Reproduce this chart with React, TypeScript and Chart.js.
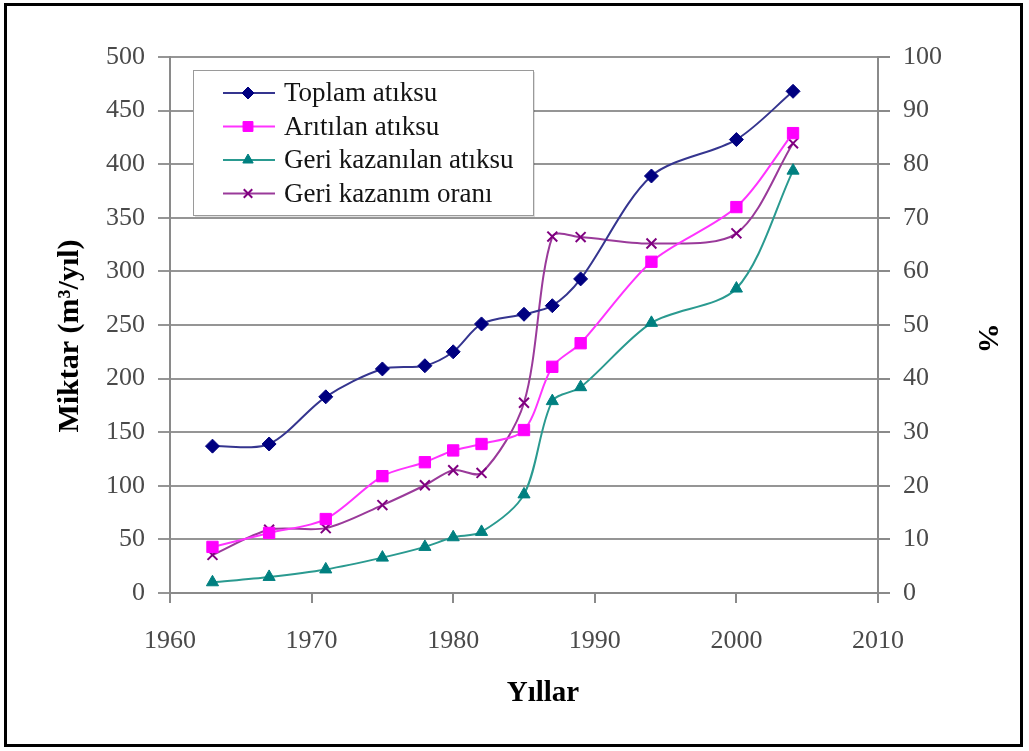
import React, { useEffect, useRef } from "react";
import { Chart, registerables } from "chart.js";
import { drawPoint } from "chart.js/helpers";

Chart.register(...registerables);

const years = [1963, 1967, 1971, 1975, 1978, 1980, 1982, 1985, 1987, 1989, 1994, 2000, 2004];
const toplam = [137, 139, 183, 209, 212, 225, 251, 260, 268, 293, 389, 423, 468];
const aritilan = [43, 56, 69, 109, 122, 133, 139, 152, 211, 233, 309, 360, 429];
const geriKazanilan = [10, 15, 22, 33, 43, 52, 57, 92, 179, 192, 252, 284, 394];
const oran = [7.1, 11.8, 12.1, 16.4, 20.1, 22.9, 22.4, 35.5, 66.5, 66.4, 65.2, 67.1, 83.9];

const seriesNames = ["Toplam atıksu", "Arıtılan atıksu", "Geri kazanılan atıksu", "Geri kazanım oranı"];
const xTitle = "Yıllar";
const yTitle = "Miktar (m³/yıl)";
const y1Title = "%";

const SERIF = '"Liberation Serif", "Times New Roman", serif';

const styles = [
  { line: "#35358f", fill: "#000080", point: "rectRot", radius: 7, lr: 6 },
  { line: "#ff33ff", fill: "#ff00ff", point: "rect", radius: 8, lr: 7 },
  { line: "#2a9a90", fill: "#008080", point: "triangle", radius: 7, lr: 6 },
  { line: "#9a3a9a", fill: "#800080", point: "crossRot", radius: 7, lr: 6 },
];

const toXY = (vals: number[]) => vals.map((v, i) => ({ x: years[i], y: v }));

const legendPlugin = {
  id: "boxLegend",
  afterDraw(chart: any) {
    const ctx = chart.ctx;
    const ca = chart.chartArea;
    ctx.save();
    const bx = ca.left + 23, by = ca.top + 13, bw = 340, bh = 145;
    ctx.fillStyle = "rgba(0,0,0,0.12)";
    ctx.fillRect(bx + 2, by + 2, bw, bh);
    ctx.fillStyle = "#ffffff";
    ctx.fillRect(bx, by, bw, bh);
    ctx.strokeStyle = "#9a9a9a";
    ctx.lineWidth = 1;
    ctx.strokeRect(bx + 0.5, by + 0.5, bw, bh);
    for (let i = 0; i < 4; i++) {
      const st = styles[i];
      const cy = by + 23 + i * 33.5;
      ctx.strokeStyle = st.line;
      ctx.lineWidth = 2;
      ctx.beginPath();
      ctx.moveTo(bx + 30, cy);
      ctx.lineTo(bx + 82, cy);
      ctx.stroke();
      ctx.fillStyle = st.fill;
      ctx.strokeStyle = st.fill;
      ctx.lineWidth = st.point === "crossRot" ? 2 : 1;
      drawPoint(ctx, { pointStyle: st.point, rotation: 0, radius: st.lr, borderWidth: ctx.lineWidth }, bx + 55, cy);
      ctx.fillStyle = "#141414";
      ctx.font = `27px ${SERIF}`;
      ctx.textBaseline = "middle";
      ctx.textAlign = "left";
      ctx.fillText(seriesNames[i], bx + 91, cy + 1);
    }
    // axis titles
    ctx.fillStyle = "#000";
    ctx.font = `bold 29px ${SERIF}`;
    ctx.textAlign = "center";
    ctx.textBaseline = "middle";
    ctx.fillText(xTitle, 543, 694);
    ctx.save();
    ctx.translate(70, 336);
    ctx.rotate(-Math.PI / 2);
    ctx.font = `bold 30px ${SERIF}`;
    ctx.fillText(yTitle, 0, 0);
    ctx.restore();
    ctx.save();
    ctx.translate(987, 338);
    ctx.rotate(Math.PI / 2);
    ctx.font = `bold 30px ${SERIF}`;
    ctx.fillText(y1Title, 0, 0);
    ctx.restore();
    ctx.restore();
  },
};

export default function App() {
  const ref = useRef<HTMLCanvasElement | null>(null);
  useEffect(() => {
    if (!ref.current) return;
    const mk = (label: string, vals: number[], i: number, axis: string) => ({
      label,
      data: toXY(vals),
      yAxisID: axis,
      borderColor: styles[i].line,
      borderWidth: 2,
      backgroundColor: styles[i].fill,
      pointBackgroundColor: styles[i].fill,
      pointBorderColor: styles[i].fill,
      pointBorderWidth: i === 3 ? 2 : 1,
      pointStyle: styles[i].point,
      pointRadius: styles[i].radius,
      tension: 0.3,
      fill: false,
    });
    const tickFont = { family: SERIF, size: 26 };
    const chart = new Chart(ref.current, {
      type: "line",
      data: {
        datasets: [
          mk(seriesNames[0], toplam, 0, "y"),
          mk(seriesNames[1], aritilan, 1, "y"),
          mk(seriesNames[2], geriKazanilan, 2, "y"),
          mk(seriesNames[3], oran, 3, "y1"),
        ],
      },
      options: {
        animation: false,
        responsive: false,
        maintainAspectRatio: false,
        layout: { padding: { left: 0, right: 0, top: 57, bottom: 0 } },
        plugins: { legend: { display: false }, tooltip: { enabled: false } },
        scales: {
          x: {
            type: "linear",
            min: 1960,
            max: 2010,
            afterFit: (s: any) => { s.height = 158; },
            ticks: { stepSize: 10, color: "#4a4a4a", font: tickFont, padding: 23, callback: (v: any) => String(v), maxRotation: 0 },
            grid: { drawOnChartArea: false, drawTicks: true, tickLength: 10, color: "#8a8a8a", lineWidth: 2 },
            border: { display: true, color: "#8a8a8a", width: 2 },
          },
          y: {
            position: "left",
            min: 0,
            max: 500,
            afterFit: (s: any) => { s.width = 170; },
            ticks: { stepSize: 50, color: "#4a4a4a", font: tickFont, padding: 13 },
            grid: { color: "#959595", lineWidth: 2, tickLength: 12 },
            border: { display: true, color: "#8a8a8a", width: 2 },
          },
          y1: {
            position: "right",
            min: 0,
            max: 100,
            afterFit: (s: any) => { s.width = 151; },
            ticks: { stepSize: 10, color: "#4a4a4a", font: tickFont, padding: 13 },
            grid: { drawOnChartArea: false, color: "#8a8a8a", lineWidth: 2, tickLength: 12 },
            border: { display: true, color: "#8a8a8a", width: 2 },
          },
        },
      },
      plugins: [legendPlugin],
    } as any);
    return () => chart.destroy();
  }, []);
  return (
    <div style={{ position: "absolute", left: 0, top: 0, width: 1029, height: 751, background: "#fff" }}>
      <div style={{ position: "absolute", left: 4, top: 3, width: 1019, height: 744, border: "3px solid #000", boxSizing: "border-box" }} />
      <canvas ref={ref} width={1029} height={751} style={{ position: "absolute", left: 0, top: 0, width: 1029, height: 751 }} />
    </div>
  );
}
